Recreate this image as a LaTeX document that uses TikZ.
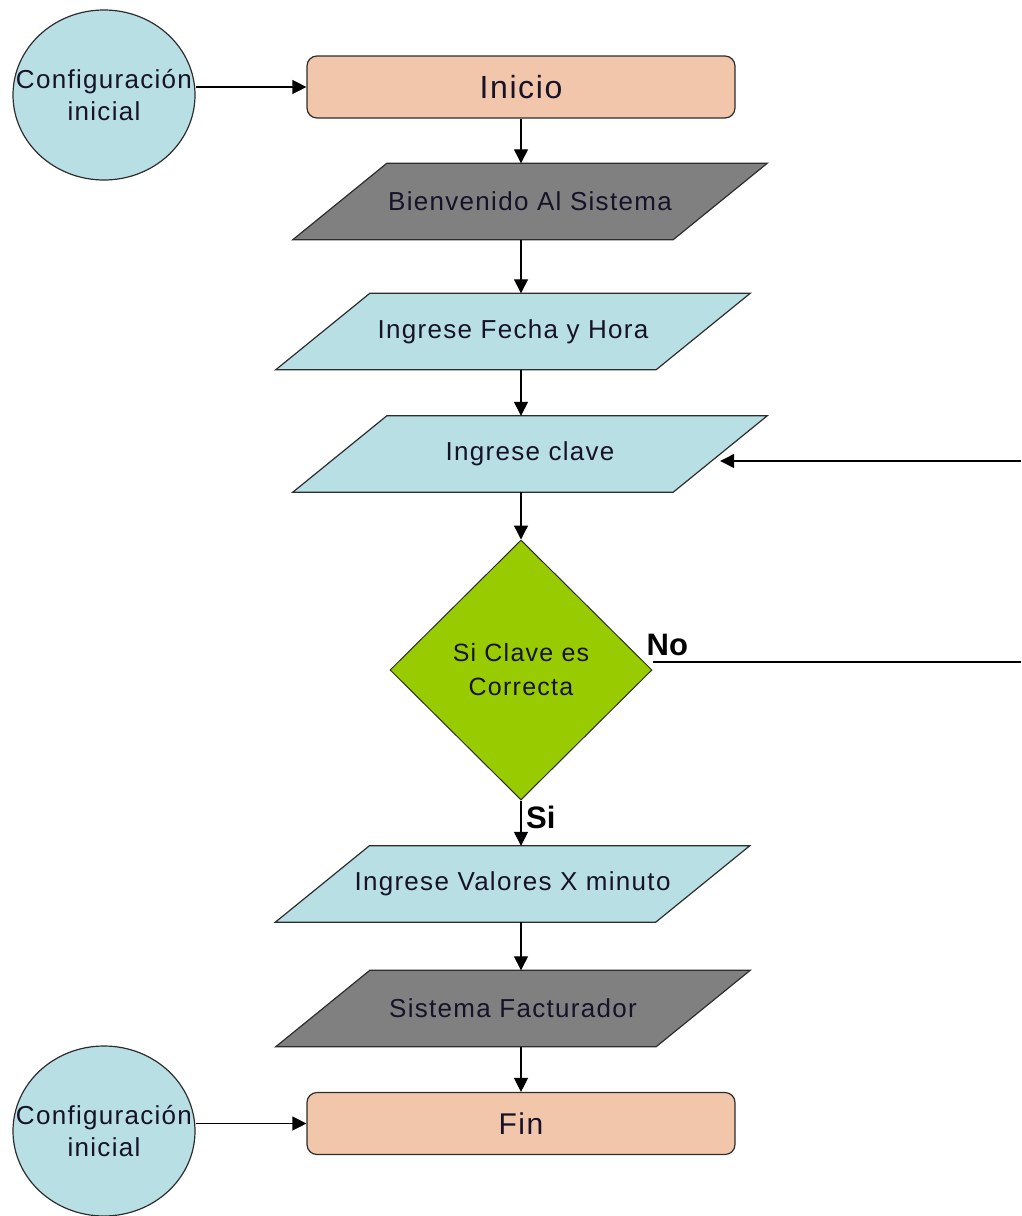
\documentclass[tikz,border=0pt]{standalone}
\usepackage{fontspec}
\setmainfont{Liberation Sans}
\newfontfamily\trackedfont[LetterSpace=5]{Liberation Sans}
\usetikzlibrary{shapes.geometric,arrows.meta,backgrounds}
\definecolor{peach}{RGB}{242,198,170}
\definecolor{paleblue}{RGB}{184,223,227}
\definecolor{boxgray}{RGB}{128,128,128}
\definecolor{leaf}{RGB}{153,204,0}
\definecolor{edge}{RGB}{45,45,45}
\definecolor{ink}{RGB}{22,18,40}

\begin{document}
\begin{tikzpicture}[x=1pt,y=-1pt,
  every node/.style={inner sep=0pt, text=ink},
  outline/.style={draw=edge, line width=1.2pt},
  terminal/.style={outline, fill=peach, rounded corners=10pt,
    minimum width=428pt, minimum height=62pt},
  connector/.style={outline, fill=paleblue, ellipse,
    inner xsep=-30pt, inner ysep=0pt,
    minimum width=182pt, minimum height=170pt, align=center,
    font=\fontsize{26}{32}\trackedfont},
  % body of an input/output step; the slanted outline is added behind it
  iobox/.style={rectangle, minimum width=380pt, minimum height=76pt,
    font=\fontsize{26}{30}\trackedfont},
  decision/.style={draw=edge, line width=1pt, fill=leaf, diamond,
    minimum width=262pt, minimum height=260pt, align=center,
    font=\fontsize{25}{34}\trackedfont},
  flow/.style={draw=black, line width=1.3pt, -{Triangle[length=14pt,width=14pt]}},
  plain/.style={draw=black, line width=1.3pt},
  branch/.style={font=\bfseries\fontsize{31}{34}\selectfont, text=black}
]
\useasboundingbox (0,0) rectangle (1021,1216);

% start and end terminals with their off-page connectors
\node[connector] (cfgtop) at (104,95) {Configuración\\inicial};
\node[terminal, font=\fontsize{32}{36}\trackedfont] (inicio) at (521,87) {Inicio};
\node[connector] (cfgbot) at (104,1131) {Configuración\\inicial};
\node[terminal, font=\fontsize{30}{34}\trackedfont] (fin) at (521,1123.5) {Fin};

% input / output steps
\node[iobox] (bienvenido) at (530,201.5) {Bienvenido Al Sistema};
\node[iobox] (fecha) at (513,331.5) {Ingrese Fecha y Hora};
\node[iobox] (clave) at (530,454) {Ingrese clave};
\node[decision] (check) at (521,670) {Si Clave es\\Correcta};
\node[iobox] (valores) at (512.5,884) {Ingrese Valores X minuto};
\node[iobox] (facturador) at (513,1008.5) {Sistema Facturador};

% slanted outlines of the input / output steps
\begin{scope}[on background layer]
  \foreach \n/\c in {bienvenido/boxgray, fecha/paleblue, clave/paleblue,
                     valores/paleblue, facturador/boxgray}
    \draw[outline, fill=\c]
      ([xshift=-47pt]\n.south west) -- ([xshift=-47pt]\n.south east) --
      ([xshift=47pt]\n.north east) -- ([xshift=47pt]\n.north west) -- cycle;
\end{scope}

% loop-back line leaving and re-entering at the right edge
\coordinate (noout) at (1021,662);
\coordinate (noin) at (1021,461);

% main flow
\draw[flow] (cfgtop.east |- inicio.west) -- (inicio.west);
\draw[flow] (inicio.south) -- (inicio.south |- bienvenido.north);
\draw[flow] (bienvenido.south -| inicio.south) -- (fecha.north -| inicio.south);
\draw[flow] (fecha.south -| inicio.south) -- (clave.north -| inicio.south);
\draw[flow] (clave.south -| check.north) -- (check.north);
\draw[flow] (check.south) -- (valores.north -| check.south);
\node[branch, anchor=base west] (si) at ([xshift=5pt,yshift=-28pt]check.south) {Si};
\draw[flow] (valores.south -| check.south) -- (facturador.north -| check.south);
\draw[flow] (facturador.south -| fin.north) -- (fin.north);
\draw[flow] (cfgbot.east |- fin.west) -- (fin.west);

% rejected key goes back to the key prompt
\draw[plain] (check.east |- noout) -- (noout);
\node[branch, anchor=base west] (no) at ([xshift=-6pt,yshift=15pt]check.east) {No};
\draw[flow] (noin) -- (clave.east |- noin);
\end{tikzpicture}
\end{document}
